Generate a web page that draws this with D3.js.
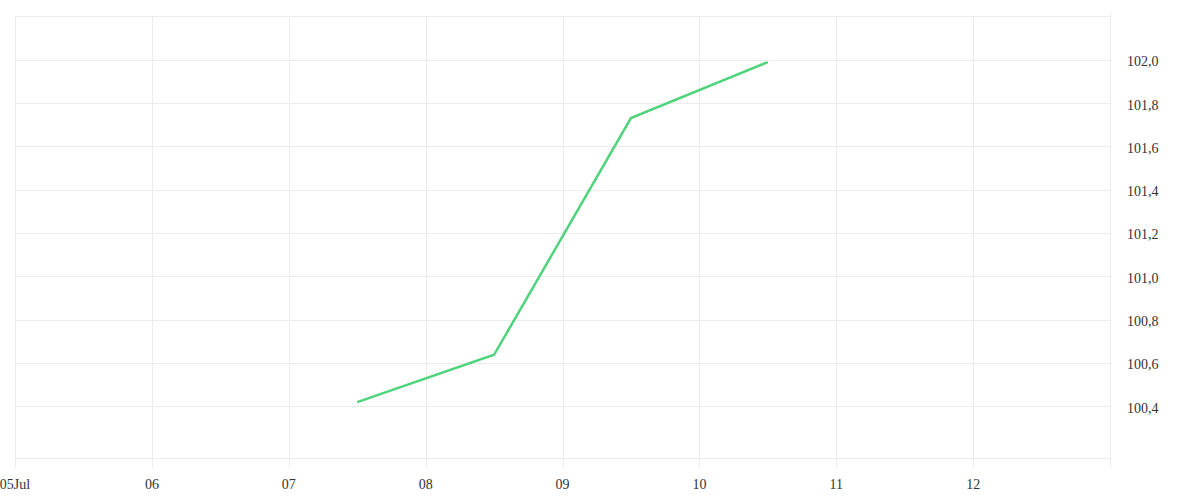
<!DOCTYPE html>
<html><head><meta charset="utf-8">
<script src="https://cdn.jsdelivr.net/npm/d3@7/dist/d3.min.js"></script>
<style>body{margin:0;background:#fff}svg{display:block}</style>
</head><body><svg id="c" width="1200" height="500"></svg>
<script>
const dates = ["2024-07-07T12:00","2024-07-08T12:00","2024-07-09T12:00","2024-07-10T12:00"];
const values = [100.418, 100.637, 101.731, 101.99];
const xTickDates = ["2024-07-05","2024-07-06","2024-07-07","2024-07-08","2024-07-09","2024-07-10","2024-07-11","2024-07-12"];
const xTickLabels = ["05Jul","06","07","08","09","10","11","12"];
const yTicks = [100.4,100.6,100.8,101.0,101.2,101.4,101.6,101.8,102.0];
const yTickLabels = ["100,4","100,6","100,8","101,0","101,2","101,4","101,6","101,8","102,0"];

const parse = d3.timeParse("%Y-%m-%dT%H:%M"), pday = d3.timeParse("%Y-%m-%d");
const svg = d3.select("#c");
const L=15, R=1110, T=16, B=458;
const x = d3.scaleTime().domain([pday("2024-07-05"), pday("2024-07-13")]).range([L,R]);
const y = d3.scaleLinear().domain([100.16, 102.203]).range([B,T]);
const grid = "#ececec";
const font = "Liberation Serif";

// horizontal grid
svg.append("g").selectAll("line").data(yTicks).join("line")
  .attr("x1",L).attr("x2",R).attr("y1",d=>Math.round(y(d))+0.5).attr("y2",d=>Math.round(y(d))+0.5)
  .attr("stroke",grid);
svg.append("line").attr("x1",L).attr("x2",R).attr("y1",T+0.5).attr("y2",T+0.5).attr("stroke",grid);
svg.append("line").attr("x1",L).attr("x2",R).attr("y1",B+0.5).attr("y2",B+0.5).attr("stroke",grid);
// vertical grid
const xt = xTickDates.map(pday);
svg.append("g").selectAll("line").data(xt).join("line")
  .attr("x1",d=>Math.round(x(d))+0.5).attr("x2",d=>Math.round(x(d))+0.5)
  .attr("y1",T).attr("y2",B+10).attr("stroke",grid);
svg.append("line").attr("x1",R+0.5).attr("x2",R+0.5).attr("y1",T-3).attr("y2",B+10).attr("stroke",grid);

// x labels
svg.append("g").selectAll("text").data(xt).join("text")
  .attr("x",d=>x(d)).attr("y",489).attr("text-anchor","middle")
  .attr("font-family",font).attr("font-size",14).attr("fill","#333")
  .text((d,i)=>xTickLabels[i]);
// y labels
svg.append("g").selectAll("text").data(yTicks).join("text")
  .attr("x",1127).attr("y",d=>y(d)+6.5)
  .attr("font-family",font).attr("font-size",14).attr("fill","#333")
  .text((d,i)=>yTickLabels[i]);

// line
const pts = dates.map((d,i)=>[parse(d),values[i]]);
svg.append("path").datum(pts)
  .attr("d", d3.line().x(d=>x(d[0])).y(d=>y(d[1])))
  .attr("fill","none").attr("stroke","#4fd47c").attr("stroke-width",2.5);
</script></body></html>
